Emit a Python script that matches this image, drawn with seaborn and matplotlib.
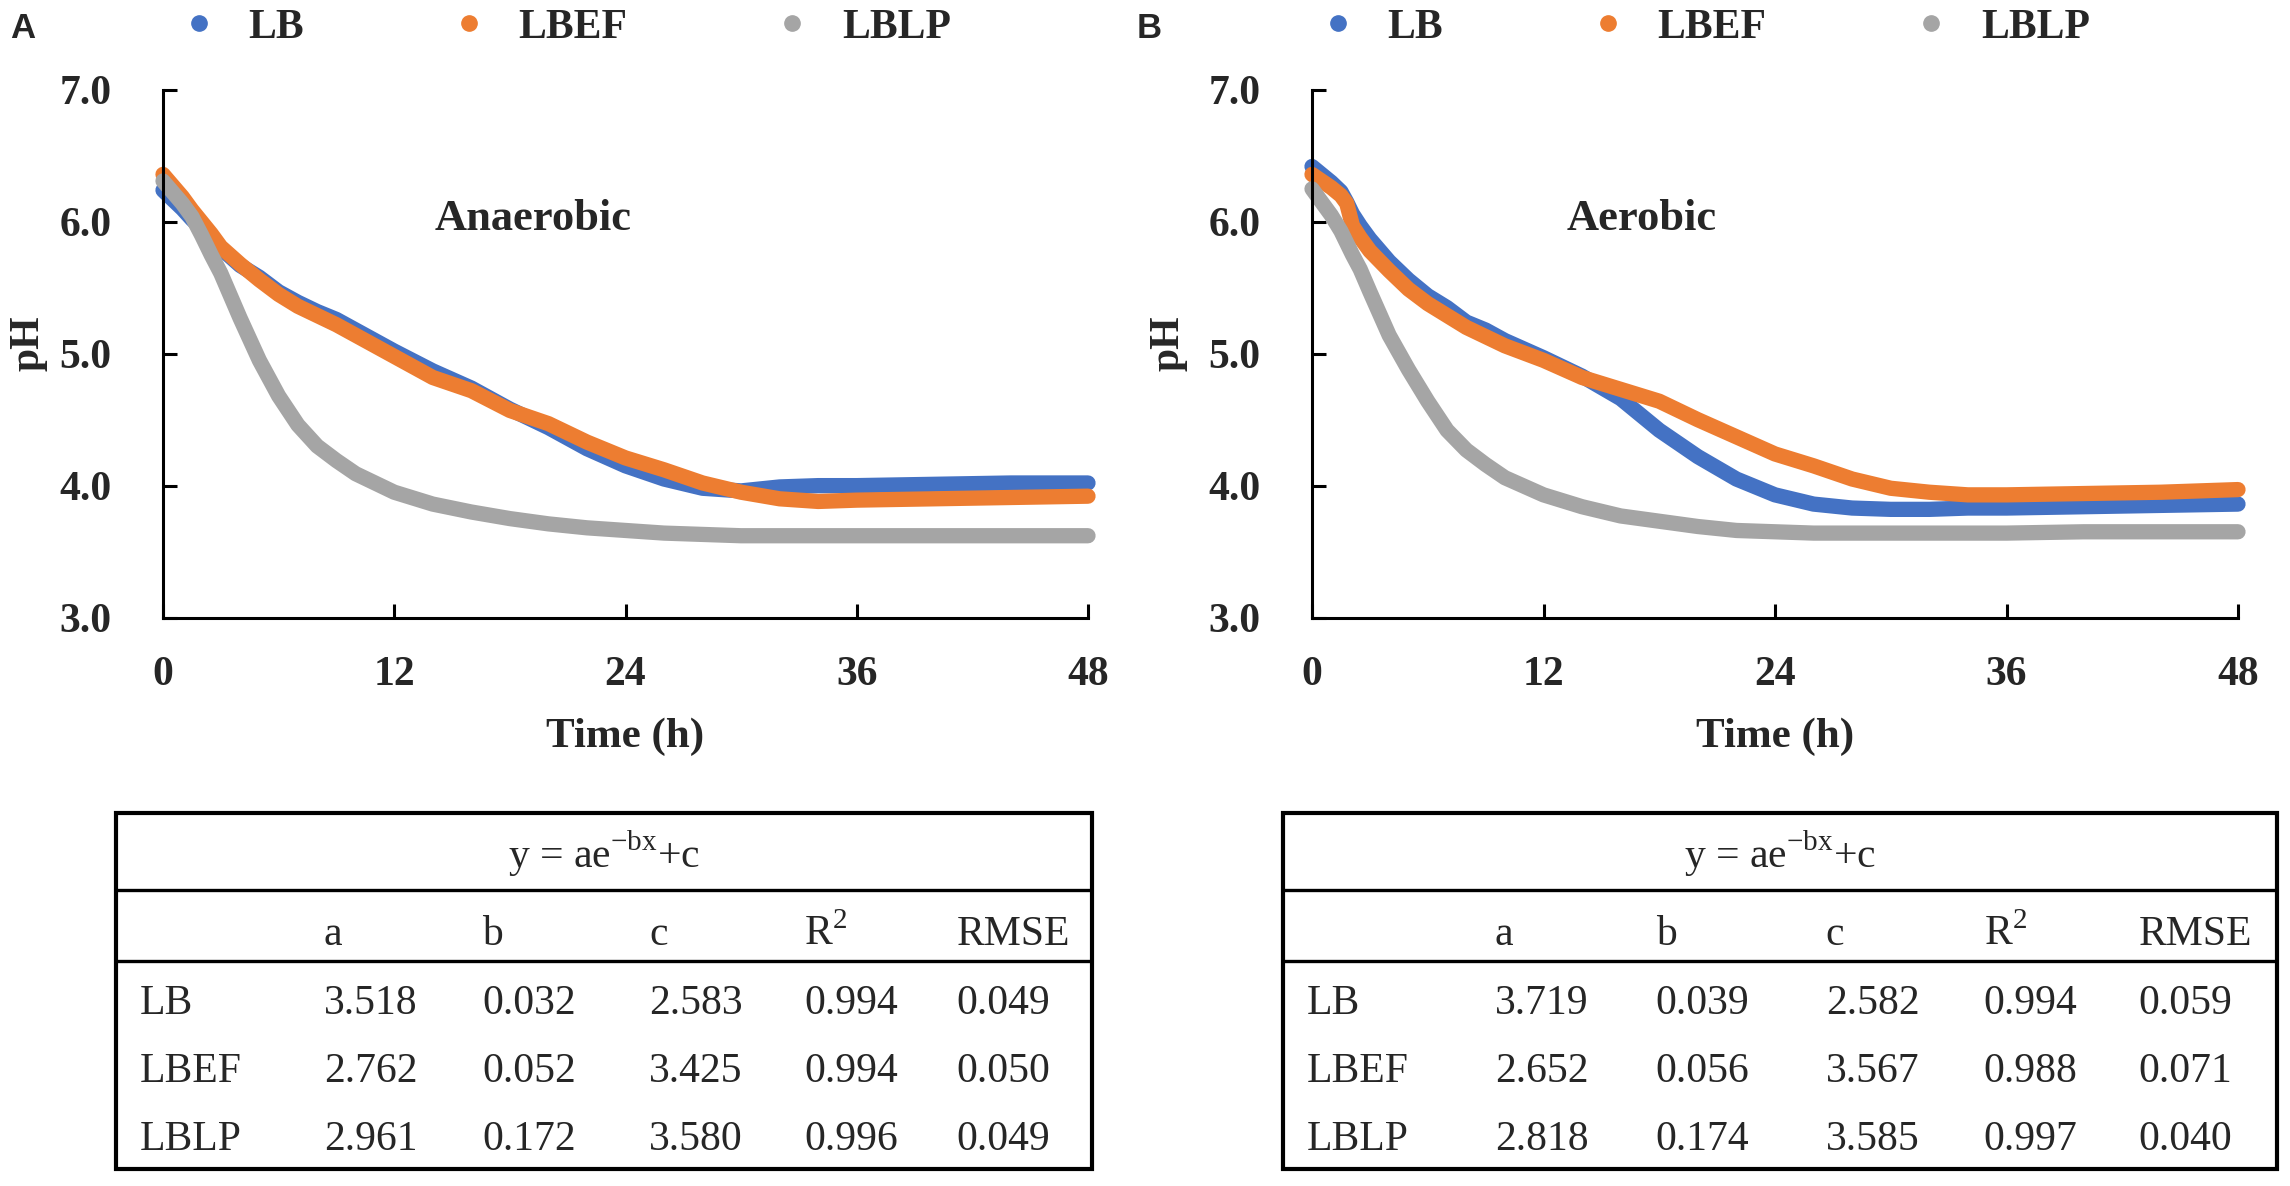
import pandas as pd
import matplotlib.pyplot as plt
import seaborn as sns
from matplotlib.lines import Line2D
from matplotlib.patches import Rectangle

# --- data ---------------------------------------------------------------
strains = ['LB', 'LBEF', 'LBLP']
colors = ['#4472C4', '#ED7D31', '#A5A5A5']

x_ticks = [0, 12, 24, 36, 48]
y_ticks = [3.0, 4.0, 5.0, 6.0, 7.0]

# panel A (anaerobic)
time_a = [0, 1, 1.5, 2, 2.5, 3, 4, 5, 6, 7, 8, 9, 10, 12, 14, 16, 18, 20,
          22, 24, 26, 28, 30, 32, 34, 36, 40, 44, 48]
ph_a_lb = [6.24, 6.10, 6.02, 5.95, 5.88, 5.80, 5.67, 5.58, 5.47, 5.39, 5.32,
           5.26, 5.18, 5.02, 4.87, 4.74, 4.58, 4.44, 4.28, 4.15, 4.05, 3.98,
           3.96, 3.99, 4.00, 4.00, 4.01, 4.02, 4.02]
ph_a_lbef = [6.36, 6.19, 6.09, 6.00, 5.91, 5.81, 5.68, 5.56, 5.45, 5.36, 5.29,
             5.22, 5.14, 4.98, 4.82, 4.72, 4.57, 4.47, 4.33, 4.21, 4.12, 4.02,
             3.95, 3.90, 3.88, 3.89, 3.90, 3.91, 3.92]
ph_a_lblp = [6.31, 6.14, 6.04, 5.90, 5.75, 5.61, 5.27, 4.95, 4.68, 4.46, 4.30,
             4.19, 4.09, 3.95, 3.86, 3.80, 3.75, 3.71, 3.68, 3.66, 3.64, 3.63,
             3.62, 3.62, 3.62, 3.62, 3.62, 3.62, 3.62]

# panel B (aerobic)
time_b = [0, 1, 1.5, 1.8, 2.1, 2.5, 3, 4, 5, 6, 7, 8, 9, 10, 12, 14, 16, 18,
          20, 22, 24, 26, 28, 30, 32, 34, 36, 40, 44, 48]
ph_b_lb = [6.42, 6.30, 6.23, 6.15, 6.06, 5.97, 5.87, 5.70, 5.56, 5.44, 5.35,
           5.24, 5.18, 5.10, 4.97, 4.83, 4.66, 4.42, 4.22, 4.05, 3.93, 3.86,
           3.83, 3.82, 3.82, 3.83, 3.83, 3.84, 3.85, 3.86]
ph_b_lbef = [6.36, 6.26, 6.20, 6.14, 5.97, 5.88, 5.78, 5.63, 5.49, 5.38, 5.29,
             5.20, 5.13, 5.06, 4.95, 4.82, 4.73, 4.64, 4.50, 4.37, 4.24, 4.15,
             4.05, 3.98, 3.95, 3.93, 3.93, 3.94, 3.95, 3.97]
ph_b_lblp = [6.25, 6.05, 5.93, 5.84, 5.75, 5.64, 5.47, 5.14, 4.88, 4.64, 4.42,
             4.27, 4.16, 4.06, 3.93, 3.84, 3.77, 3.73, 3.69, 3.66, 3.65, 3.64,
             3.64, 3.64, 3.64, 3.64, 3.64, 3.65, 3.65, 3.65]

# fit table y = a*exp(-b*x) + c
fit_headers = ['a', 'b', 'c', 'R$^{\\mathregular{2}}$', 'RMSE']
fit_a_lb = [3.518, 0.032, 2.583, 0.994, 0.049]
fit_a_lbef = [2.762, 0.052, 3.425, 0.994, 0.050]
fit_a_lblp = [2.961, 0.172, 3.580, 0.996, 0.049]
fit_b_lb = [3.719, 0.039, 2.582, 0.994, 0.059]
fit_b_lbef = [2.652, 0.056, 3.567, 0.988, 0.071]
fit_b_lblp = [2.818, 0.174, 3.585, 0.997, 0.040]

# --- style ---------------------------------------------------------------
sns.set_theme(style='ticks')
plt.rcParams['font.family'] = ['Liberation Serif', 'DejaVu Serif']
plt.rcParams['mathtext.fontset'] = 'custom'
plt.rcParams['mathtext.rm'] = 'Liberation Serif'

W, H = 2290, 1186
fig = plt.figure(figsize=(W / 100, H / 100), dpi=100)
fig.patch.set_facecolor('white')


def fx(px):
    return px / W


def fy(py):
    return 1 - py / H


def draw_panel(left_px, right_px, times, series, condition, text_x, ylab_x,
               letter, letter_px, legend_px):
    ax = fig.add_axes([fx(left_px), fy(617.5), fx(right_px - left_px),
                       (617.5 - 90) / H])
    df = pd.DataFrame({
        'Time': times * 3,
        'pH': series[0] + series[1] + series[2],
        'Strain': [s for s in strains for _ in times],
    })
    sns.lineplot(data=df, x='Time', y='pH', hue='Strain', hue_order=strains,
                 palette=colors, linewidth=11, solid_capstyle='round',
                 solid_joinstyle='round', legend=False, ax=ax)
    for line in ax.lines:
        line.set_clip_on(False)

    ax.set_xlim(0, 48)
    ax.set_ylim(3, 7)
    ax.set_xticks(x_ticks)
    ax.set_yticks(y_ticks)
    ax.set_yticklabels([f'{v:.1f}' for v in y_ticks])
    sns.despine(ax=ax)
    for sp in ('left', 'bottom'):
        ax.spines[sp].set_linewidth(2.2)
        ax.spines[sp].set_color('black')
    ax.tick_params(axis='both', direction='in', length=10, width=2.2,
                   color='black', labelsize=30)
    ax.tick_params(axis='y', pad=37)
    ax.tick_params(axis='x', pad=28)
    for lab in ax.get_xticklabels() + ax.get_yticklabels():
        lab.set_fontweight('bold')

    ax.set_xlabel('Time (h)', fontsize=31, fontweight='bold')
    ax.xaxis.set_label_coords(0.5, -0.19)
    ax.set_ylabel('pH', fontsize=30, fontweight='bold')
    ax.yaxis.set_label_coords(ylab_x, 0.52)

    ax.text(text_x, 5.94, condition, fontsize=32, fontweight='bold',
            ha='left', va='baseline')

    handles = [Line2D([], [], marker='o', linestyle='', markersize=11,
                      color=c) for c in colors]
    ax.legend(handles, strains, loc='center left',
              bbox_to_anchor=(fx(legend_px), fy(28)),
              bbox_transform=fig.transFigure, ncol=3, frameon=False,
              handlelength=0.6, handletextpad=0.9, columnspacing=3.65,
              borderpad=0, borderaxespad=0,
              prop={'family': 'Liberation Serif', 'weight': 'bold',
                    'size': 30})

    fig.text(fx(letter_px), fy(38), letter, fontsize=25, fontweight='bold',
             family='Liberation Sans', ha='left', va='baseline')
    return ax


def draw_table(left_px, right_px, rows):
    tx = fig.add_axes([fx(left_px), fy(1169), fx(right_px - left_px),
                       (1169 - 813) / H])
    tx.set_axis_off()
    tx.set_xlim(0, 1)
    tx.set_ylim(0, 1)
    tx.add_patch(Rectangle((0, 0), 1, 1, fill=False, lw=3, ec='black',
                           clip_on=False))
    for yl in (0.784, 0.584):
        tx.axhline(yl, color='black', lw=2.4)

    col_x = [0.024, 0.213, 0.375, 0.546, 0.705, 0.861]
    row_y = [0.434, 0.245, 0.054]
    tx.text(0.5, 0.846, 'y = ae$^{\\mathregular{-bx}}$+c', fontsize=30,
            ha='center', va='baseline')
    for x, h in zip(col_x[1:], fit_headers):
        tx.text(x, 0.629, h, fontsize=30, ha='left', va='baseline')
    for y, name, vals in zip(row_y, strains, rows):
        tx.text(col_x[0], y, name, fontsize=30, ha='left', va='baseline')
        for x, v in zip(col_x[1:], vals):
            tx.text(x, y, f'{v:.3f}', fontsize=30, ha='left', va='baseline')


draw_panel(163, 1088, time_a, [ph_a_lb, ph_a_lbef, ph_a_lblp], 'Anaerobic',
           14.1, -0.125, 'A', 10, 186)
draw_panel(1312, 2238, time_b, [ph_b_lb, ph_b_lbef, ph_b_lblp], 'Aerobic',
           13.2, -0.134, 'B', 1137, 1325)

draw_table(116, 1092, [fit_a_lb, fit_a_lbef, fit_a_lblp])
draw_table(1283, 2277, [fit_b_lb, fit_b_lbef, fit_b_lblp])

fig.savefig('out.png', dpi=100)
